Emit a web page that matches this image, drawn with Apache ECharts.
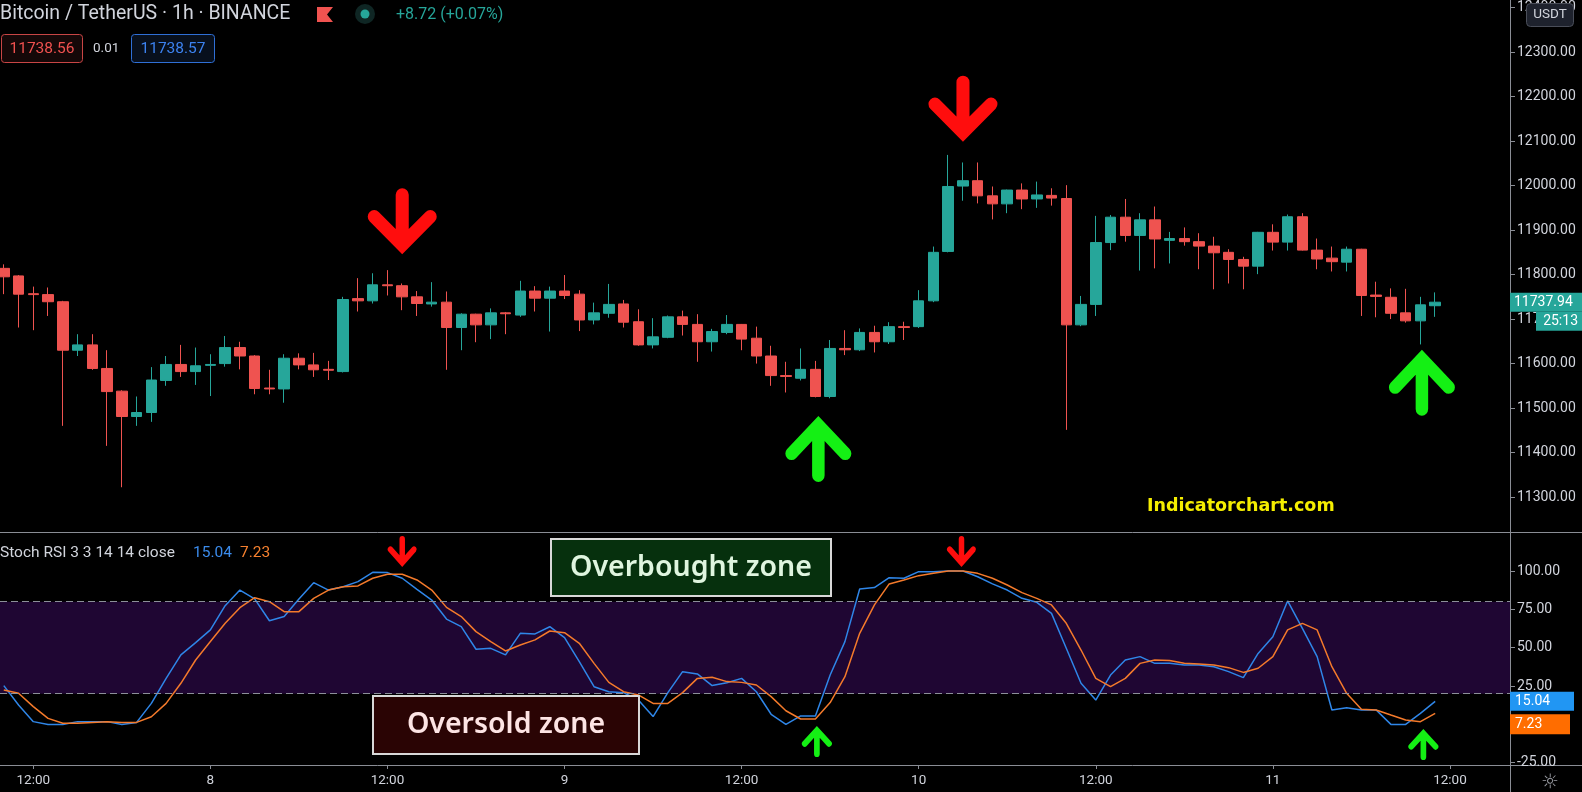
<!DOCTYPE html>
<html><head><meta charset="utf-8">
<script src="https://cdn.jsdelivr.net/npm/echarts@6/dist/echarts.min.js"></script>
<style>html,body{margin:0;padding:0;background:#000;}#c{width:1582px;height:792px;}</style>
</head><body><div id="c"></div>
<script>
// ---- data (hourly candles, BTC/USDT, day 7 10:00 -> day 11 11:00) ----
const timeLabels = ['12:00','8','12:00','9','12:00','10','12:00','11','12:00'];
const timeLabelIndex = [2,14,26,38,50,62,74,86,98];
const open = [11814,11797,11757,11755,11739,11630,11642,11589,11538,11481,
11490,11562,11598,11582,11596,11600,11636,11617,11545,11543,
11612,11597,11587,11582,11746,11741,11777,11775,11750,11734,
11738,11681,11711,11687,11714,11709,11763,11747,11763,11756,
11698,11713,11734,11694,11642,11659,11705,11688,11649,11670,
11688,11657,11617,11573,11567,11587,11526,11634,11631,11670,
11649,11683,11683,11741,11852,11999,12011,11977,11959,11990,
11970,11978,11971,11687,11733,11872,11929,11888,11923,11877,
11881,11874,11864,11850,11834,11819,11895,11873,11930,11855,
11837,11828,11857,11754,11749,11714,11696,11730];
const close = [11795,11756,11755,11739,11630,11642,11589,11537,11481,11490,
11563,11598,11582,11595,11598,11636,11617,11544,11543,11612,
11597,11586,11585,11744,11741,11777,11775,11750,11735,11738,
11681,11711,11687,11714,11712,11763,11747,11763,11753,11698,
11714,11733,11693,11642,11660,11705,11688,11649,11672,11688,
11655,11617,11573,11571,11587,11526,11634,11631,11670,11649,
11683,11681,11741,11850,11998,12011,11977,11959,11990,11970,
11979,11972,11687,11733,11872,11929,11888,11923,11880,11881,
11874,11864,11849,11834,11819,11895,11873,11930,11855,11835,
11829,11857,11753,11751,11713,11696,11732,11737.94];
const low = [11756,11681,11675,11707,11460,11617,11586,11415,11322,11460,
11469,11550,11570,11552,11527,11593,11587,11531,11531,11512,
11587,11570,11563,11580,11717,11735,11753,11720,11707,11728,
11586,11630,11648,11655,11666,11705,11717,11672,11745,11673,
11688,11703,11681,11640,11634,11657,11663,11604,11627,11666,
11630,11600,11550,11535,11562,11524,11522,11619,11628,11625,
11644,11653,11680,11738,11850,11966,11960,11924,11938,11947,
11950,11955,11451,11684,11707,11855,11874,11809,11814,11825,
11865,11812,11767,11780,11767,11801,11854,11854,11854,11812,
11807,11807,11707,11704,11700,11692,11643,11705];
const high = [11823,11799,11773,11771,11741,11666,11666,11630,11540,11526,
11592,11617,11642,11636,11621,11662,11649,11619,11586,11621,
11623,11624,11606,11750,11792,11803,11810,11780,11763,11783,
11762,11713,11712,11724,11716,11786,11774,11773,11799,11765,
11737,11779,11743,11722,11702,11708,11719,11711,11678,11709,
11689,11683,11640,11604,11634,11606,11653,11675,11679,11685,
11693,11694,11765,11863,12069,12052,12052,11998,11991,12005,
12009,11994,12001,11752,11932,11934,11970,11938,11953,11896,
11906,11893,11885,11857,11840,11896,11913,11935,11938,11881,
11863,11863,11858,11784,11769,11768,11750,11760];
const stochK = [25.3,12.6,1.8,0,0,1.8,1.8,1.8,0,1.3,
13.7,30,45.3,53.3,61.6,77.4,87.6,81.8,67.6,70.3,
81.8,92.4,87.6,89.8,93.1,99.2,99,95.3,88.1,81.1,
68.7,63.7,49,49.6,45.3,59.4,59,63.7,56.6,40.9,
24.6,21.3,20.7,15.9,5.1,20.7,34.4,32.9,25.3,27.2,
30,21.3,6.6,0,5.5,5.5,32.2,54,88.3,89.2,
95.7,95.3,99.6,99.6,100,100,96.3,91.6,87.6,82.2,
79.6,72.4,49.6,26.8,15.9,32.2,42,44.2,39.8,39.8,
38.7,38.7,37.6,34.4,30.5,46.3,57.2,80.5,62.6,44.2,
9.4,10.9,9.4,9.4,0,0,7.2,15.04];
const stochD = [22.4,20.3,11.6,3.9,0.7,0.7,1.3,1.8,1.3,1.3,
5,13.7,26.8,42,54,65.9,76.1,82.6,80,73.5,
73.5,82.2,87.6,89.8,90.3,95.3,97.9,97.9,94.2,87.6,
76.3,70.3,60.5,54,47.9,51.8,55.1,60.9,59.8,52.9,
39.8,27.4,21.3,19.2,13.7,13.7,20.7,30,30.7,27.9,
27.4,25.7,18.1,8.9,3.5,3.5,14.2,31.1,59.4,77.9,
91.6,94.2,97,98.5,100,100,98.5,95.3,90.9,85.9,
82.2,77.9,65.9,48.5,30,24.6,30,39.8,42,41.6,
39.8,39.4,38.7,37,33.9,36.6,44.2,61.6,65.9,61.6,
37.6,20.3,9.8,9.4,6.1,2.9,1.8,7.23];
const priceTicks = [11300,11400,11500,11600,11700,11800,11900,12000,12100,12200,12300,12400];
const stochTicks = [-25,0,25,50,75,100];
const stochBand = [20, 80];
const lastPrice = 11737.94, lastK = 15.04, lastD = 7.23, countdown = '25:13';
// annotation arrows: [candle index, value]
const priceDownArrows = [[27, 11920], [65, 12173]];
const priceUpArrows = [[55.2, 11408], [96.1, 11557]];
const stochDownArrows = [[27, 112.7], [64.9, 112.7]];
const stochUpArrows = [[55.1, -11.2], [96.2, -13.1]];

// ---- styling ----
const UP = '#26a69a', DOWN = '#ef5350', AXIS = '#8a8d95', TXT = '#d1d4dc';
const FONT = 'Roboto';
const downPath = 'path://M40 10 A10 10 0 0 1 60 10 L60 62 L86 36 A9.9 9.9 0 0 1 100 50 L50 100 L0 50 A9.9 9.9 0 0 1 14 36 L40 62 Z';
const upPath = 'path://M40 90 A10 10 0 0 0 60 90 L60 38 L86 64 A9.9 9.9 0 0 0 100 50 L50 0 L0 50 A9.9 9.9 0 0 0 14 64 L40 38 Z';
const RED = '#ff0d0d', GREEN = '#14f014';

const candles = open.map((o, i) => [i, o, close[i], low[i], high[i]]);
const kData = stochK.map((v, i) => [i, v]);
const dData = stochD.map((v, i) => [i, v]);

function arrows(list, path, color, size) {
  return list.map(a => ({ coord: a, symbol: path, symbolSize: size, itemStyle: { color } }));
}

const xBase = { type: 'value', min: -0.2575, max: 102.07, splitLine: { show: false },
  axisLine: { show: true, onZero: false, lineStyle: { color: AXIS, width: 1 } } };
const yLine = { show: true, onZero: false, lineStyle: { color: AXIS } };
const yLabel = { color: TXT, fontSize: 14, fontFamily: FONT, margin: 7 };

const chart = echarts.init(document.getElementById('c'), null, { renderer: 'canvas' });
chart.setOption({
  backgroundColor: '#000',
  animation: false,
  grid: [
    { left: 0, right: 72, top: 0, height: 532 },
    { left: 0, right: 72, top: 532, height: 233 }
  ],
  xAxis: [
    Object.assign({ gridIndex: 0, axisTick: { show: false }, axisLabel: { show: false } }, xBase),
    Object.assign({ gridIndex: 1,
      axisTick: { show: true, customValues: timeLabelIndex, length: 4, lineStyle: { color: AXIS } },
      axisLabel: { customValues: timeLabelIndex, formatter: v => timeLabels[timeLabelIndex.indexOf(Math.round(v))],
        color: TXT, fontSize: 13.5, fontFamily: FONT, margin: 9 } }, xBase)
  ],
  yAxis: [
    { gridIndex: 0, type: 'value', position: 'right', min: 11221.4, max: 12417.2, splitLine: { show: false },
      axisLine: yLine,
      axisTick: { show: true, customValues: priceTicks, length: 5, lineStyle: { color: AXIS } },
      axisLabel: Object.assign({ customValues: priceTicks, formatter: v => v.toFixed(2) }, yLabel) },
    { gridIndex: 1, type: 'value', position: 'right', min: -26.48, max: 125.46, splitLine: { show: false },
      axisLine: yLine,
      axisTick: { show: true, customValues: stochTicks, length: 5, lineStyle: { color: AXIS } },
      axisLabel: Object.assign({ customValues: stochTicks, formatter: v => v.toFixed(2) }, yLabel) }
  ],
  series: [
    { type: 'candlestick', xAxisIndex: 0, yAxisIndex: 0, data: candles, barWidth: 11,
      itemStyle: { color: UP, color0: DOWN, borderColor: UP, borderColor0: DOWN, borderWidth: 1 },
      markLine: { silent: true, symbol: ['none', 'none'], animation: false,
        data: [{ yAxis: lastPrice, lineStyle: { color: 'transparent', width: 0 },
          label: { show: true, position: 'end', distance: 0, padding: [19, 0, 0, 0],
            formatter: '{a|' + lastPrice.toFixed(2) + '}\n{b|' + countdown + '}',
            rich: {
              a: { backgroundColor: UP, color: '#fff', fontSize: 14, fontFamily: FONT, width: 64, padding: [0, 4, 0, 4], height: 19, lineHeight: 19 },
              b: { backgroundColor: UP, color: '#fff', fontSize: 14, fontFamily: FONT, width: 38, padding: [0, 4, 0, 4], height: 19, lineHeight: 19, align: 'right' }
            } } }] },
      markPoint: { silent: true, label: { show: false },
        data: arrows(priceDownArrows, downPath, RED, [69, 66]).concat(arrows(priceUpArrows, upPath, GREEN, [66, 66])) }
    },
    { type: 'line', xAxisIndex: 1, yAxisIndex: 1, data: [], z: 1, silent: true,
      markArea: { silent: true, itemStyle: { color: '#1f0633' }, data: [[{ yAxis: stochBand[1] }, { yAxis: stochBand[0] }]] },
      markLine: { silent: true, symbol: ['none', 'none'], label: { show: false },
        lineStyle: { color: '#8c8f99', type: [7, 4], width: 1 },
        data: [{ yAxis: stochBand[1] }, { yAxis: stochBand[0] }] } },
    { type: 'line', xAxisIndex: 1, yAxisIndex: 1, data: kData, z: 3, showSymbol: false, silent: true,
      lineStyle: { color: '#2f86e8', width: 1.5 },
      markLine: { silent: true, symbol: ['none', 'none'],
        data: [{ yAxis: lastK, lineStyle: { color: 'transparent', width: 0 },
          label: { show: true, position: 'end', distance: 0,
            formatter: '{a|' + lastK.toFixed(2) + '}',
            rich: { a: { backgroundColor: '#2196f3', color: '#fff', fontSize: 14, fontFamily: FONT, width: 54, padding: [0, 5, 0, 5], height: 19, lineHeight: 19 } } } }] },
      markPoint: { silent: true, label: { show: false },
        data: arrows(stochDownArrows, downPath, RED, [29, 31]).concat(arrows(stochUpArrows, upPath, GREEN, [30, 31])) }
    },
    { type: 'line', xAxisIndex: 1, yAxisIndex: 1, data: dData, z: 3, showSymbol: false, silent: true,
      lineStyle: { color: '#f47a2b', width: 1.5 },
      markLine: { silent: true, symbol: ['none', 'none'],
        data: [{ yAxis: lastD, lineStyle: { color: 'transparent', width: 0 },
          label: { show: true, position: 'end', distance: 0, padding: [22, 0, 0, 0],
            formatter: '{a|' + lastD.toFixed(2) + '}',
            rich: { a: { backgroundColor: '#ff6d00', color: '#fff', fontSize: 14, fontFamily: FONT, width: 50, padding: [0, 5, 0, 5], height: 20, lineHeight: 20 } } } }] }
    }
  ],
  graphic: [
    // header
    { type: 'text', x: 0, y: 14.5, style: { text: 'Bitcoin / TetherUS · 1h · BINANCE', fill: TXT, font: '19.5px Roboto', verticalAlign: 'middle' } },
    { type: 'polygon', shape: { points: [[317, 7], [333, 7], [327, 14.5], [333, 22], [317, 22]] }, style: { fill: '#f05350' } },
    { type: 'circle', shape: { cx: 365, cy: 14, r: 10 }, style: { fill: '#0f2624' } },
    { type: 'circle', shape: { cx: 365, cy: 14, r: 4.5 }, style: { fill: UP } },
    { type: 'text', x: 396, y: 14.5, style: { text: '+8.72 (+0.07%)', fill: UP, font: '16px Roboto', verticalAlign: 'middle' } },
    { type: 'rect', shape: { x: 1.5, y: 34.5, width: 81, height: 28, r: 3 }, style: { fill: '#150808', stroke: '#c84545', lineWidth: 1 } },
    { type: 'text', x: 42, y: 49, style: { text: '11738.56', fill: '#f0514f', font: '15.5px Roboto', align: 'center', verticalAlign: 'middle' } },
    { type: 'text', x: 93, y: 49, style: { text: '0.01', fill: TXT, font: '13.5px Roboto', verticalAlign: 'middle' } },
    { type: 'rect', shape: { x: 131.5, y: 34.5, width: 83, height: 28, r: 3 }, style: { fill: '#08101d', stroke: '#2f6fd6', lineWidth: 1 } },
    { type: 'text', x: 173, y: 49, style: { text: '11738.57', fill: '#3c82f0', font: '15.5px Roboto', align: 'center', verticalAlign: 'middle' } },
    // currency box (sits over the top price label)
    { type: 'rect', z: 100, shape: { x: 1526.5, y: 3.5, width: 47, height: 23, r: 4 }, style: { fill: '#1e222d', stroke: '#4a4e59', lineWidth: 1 } },
    { type: 'text', z: 101, x: 1550, y: 15, style: { text: 'USDT', fill: TXT, font: '13.5px Roboto', align: 'center', verticalAlign: 'middle' } },
    // axis strip extensions
    { type: 'line', shape: { x1: 1510, y1: 532.5, x2: 1582, y2: 532.5 }, style: { stroke: AXIS, lineWidth: 1 } },
    { type: 'line', shape: { x1: 1510, y1: 765.5, x2: 1582, y2: 765.5 }, style: { stroke: AXIS, lineWidth: 1 } },
    { type: 'line', shape: { x1: 1510.5, y1: 765, x2: 1510.5, y2: 792 }, style: { stroke: AXIS, lineWidth: 1 } },
    { type: 'text', x: 1550, y: 783, style: { text: '☼', fill: '#9a9ca3', font: '20px "DejaVu Sans"', align: 'center', verticalAlign: 'middle' } },
    // indicator legend
    { type: 'text', x: 0, y: 553, style: { text: 'Stoch RSI 3 3 14 14 close', fill: TXT, font: '15.5px Roboto', verticalAlign: 'middle' } },
    { type: 'text', x: 193, y: 553, style: { text: lastK.toFixed(2), fill: '#3b8beb', font: '15.5px Roboto', verticalAlign: 'middle' } },
    { type: 'text', x: 240, y: 553, style: { text: lastD.toFixed(2), fill: '#f5802f', font: '15.5px Roboto', verticalAlign: 'middle' } },
    // zone notes
    { type: 'rect', z: 50, shape: { x: 551, y: 539, width: 280, height: 57 }, style: { fill: '#06300d', stroke: '#d8d8d8', lineWidth: 2 } },
    { type: 'text', z: 51, x: 691, y: 568, style: { text: 'Overbought zone', fill: '#dff5df', font: '600 28.5px "Noto Sans"', align: 'center', verticalAlign: 'middle' } },
    { type: 'rect', z: 50, shape: { x: 373, y: 696, width: 266, height: 58 }, style: { fill: '#2a0404', stroke: '#d8d8d8', lineWidth: 2 } },
    { type: 'text', z: 51, x: 506, y: 725, style: { text: 'Oversold zone', fill: '#fde4e4', font: '600 28.5px "Noto Sans"', align: 'center', verticalAlign: 'middle' } },
    // watermark
    { type: 'text', x: 1147, y: 506, style: { text: 'Indicatorchart.com', fill: '#f5ee00', font: 'bold 17.5px "DejaVu Sans"', verticalAlign: 'middle' } }
  ]
});
</script>
</body></html>
